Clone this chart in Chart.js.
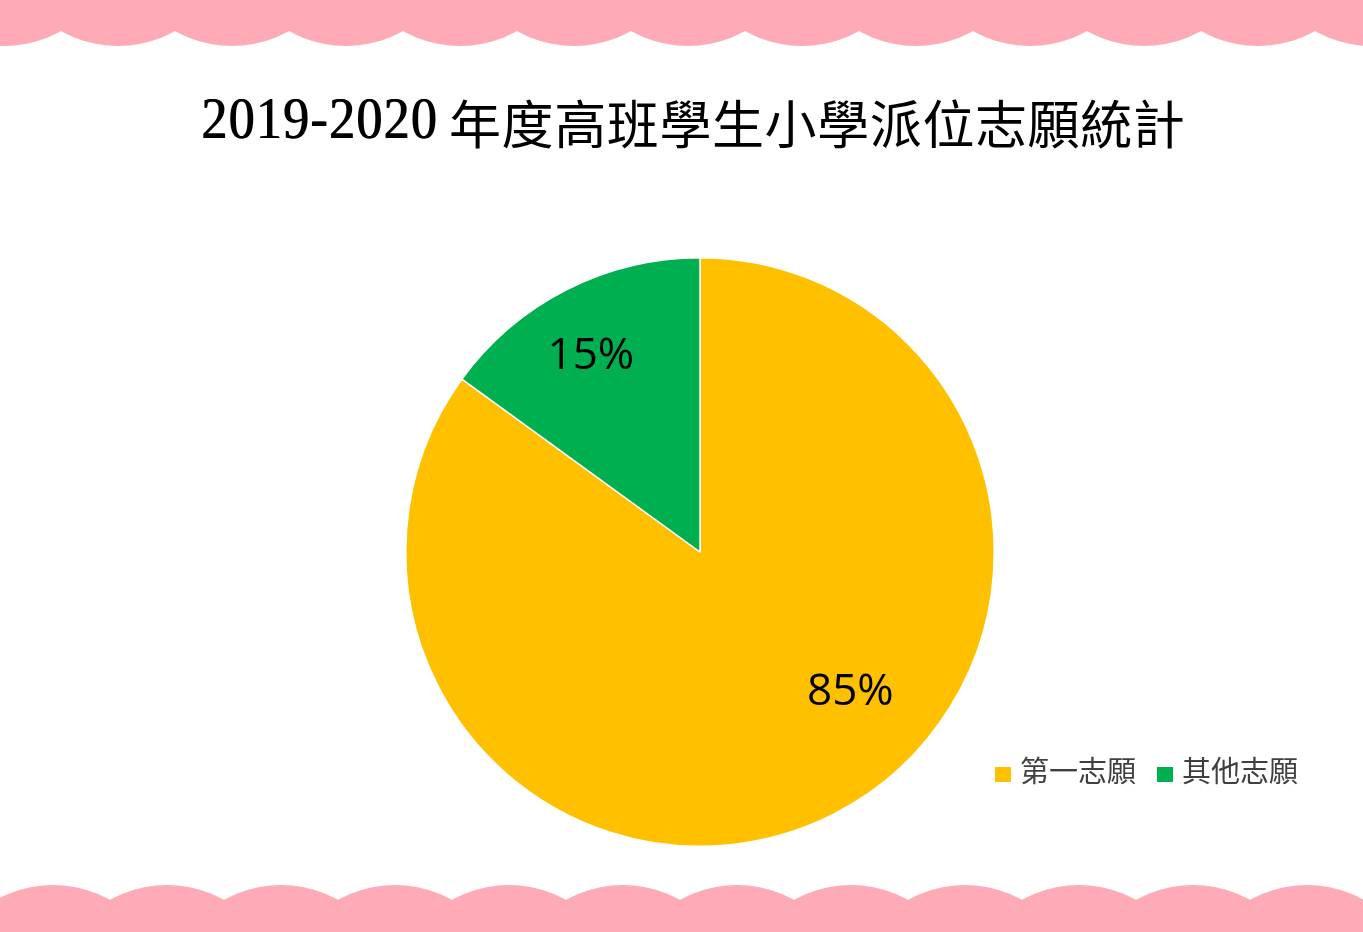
<!DOCTYPE html>
<html>
<head>
<meta charset="utf-8">
<script src="https://cdn.jsdelivr.net/npm/chart.js@4"></script>
<style>
  html, body { margin: 0; padding: 0; background: #ffffff; }
  #wrap { width: 1363px; height: 932px; position: relative; }
</style>
</head>
<body>
<div id="wrap"><canvas id="c" width="1363" height="932"></canvas></div>
<script>
// ---- data ----
const titleYear = '2019-2020';
const titleWords = '年度高班學生小學派位志願統計';
const categories = ['第一志願', '其他志願'];
const values = [85, 15];
const colors = ['#FFC000', '#00B050'];
// label anchor: fraction along the slice angle, fraction of radius
const labelAngleFrac = [0.435, 0.459];
const labelRadiusFrac = [0.70, 0.76];

const PINK = '#FFABB7';
const YEAR_FONT = '59px "Liberation Serif", serif';

const scallopPlugin = {
  id: 'scallops',
  beforeDraw(chart) {
    const ctx = chart.ctx;
    const W = chart.width, H = chart.height;
    ctx.save();
    ctx.fillStyle = '#ffffff';
    ctx.fillRect(0, 0, W, H);
    ctx.fillStyle = PINK;
    const r = 116, period = 114;
    for (let cx = 4 - period; cx < W + period; cx += period) {
      ctx.beginPath();
      ctx.arc(cx, 46 - r, r, 0, Math.PI * 2);
      ctx.fill();
    }
    for (let cx = 53 - period; cx < W + period; cx += period) {
      ctx.beginPath();
      ctx.arc(cx, 885 + r, r, 0, Math.PI * 2);
      ctx.fill();
    }
    ctx.restore();
  }
};

const titlePlugin = {
  id: 'mixedTitle',
  afterDraw(chart) {
    const ctx = chart.ctx;
    ctx.save();
    ctx.fillStyle = '#000000';
    ctx.textAlign = 'left';
    // year part: tall condensed serif digits
    ctx.save();
    ctx.translate(201, 138);
    ctx.scale(0.88, 1);
    ctx.font = YEAR_FONT;
    ctx.letterSpacing = '1.5px';
    ctx.textBaseline = 'alphabetic';
    ctx.shadowColor = '#000000';
    ctx.shadowBlur = 0;
    ctx.shadowOffsetX = 1;
    ctx.shadowOffsetY = 0;
    ctx.fillText(titleYear, 0, 0);
    ctx.restore();
    // Chinese part
    ctx.font = '52px "Noto Sans CJK TC", sans-serif';
    ctx.letterSpacing = '0.6px';
    ctx.textBaseline = 'middle';
    ctx.fillText(titleWords, 449, 124);
    ctx.restore();
  }
};

const labelPlugin = {
  id: 'pctLabels',
  afterDatasetsDraw(chart) {
    const ctx = chart.ctx;
    const meta = chart.getDatasetMeta(0);
    const total = values.reduce((a, b) => a + b, 0);
    ctx.save();
    ctx.font = '44px "Open Sans", "Noto Sans", sans-serif';
    ctx.fillStyle = '#000000';
    ctx.textAlign = 'center';
    ctx.textBaseline = 'middle';
    meta.data.forEach((arc, i) => {
      const p = arc.getProps(['x', 'y', 'startAngle', 'endAngle', 'outerRadius'], true);
      const a = p.startAngle + (p.endAngle - p.startAngle) * labelAngleFrac[i];
      const rr = p.outerRadius * labelRadiusFrac[i];
      ctx.fillText(Math.round(values[i] / total * 100) + '%',
        p.x + Math.cos(a) * rr, p.y + Math.sin(a) * rr);
    });
    ctx.restore();
  }
};

const legendPlugin = {
  id: 'customLegend',
  afterDraw(chart) {
    const ctx = chart.ctx;
    ctx.save();
    ctx.font = '29px "Noto Sans CJK TC", sans-serif';
    ctx.textBaseline = 'middle';
    ctx.textAlign = 'left';
    const box = 15, gapBox = 9, gapItem = 21;
    const widths = categories.map(t => ctx.measureText(t).width);
    let total = 0;
    categories.forEach((t, i) => {
      total += box + 1 + gapBox + widths[i] + (i < categories.length - 1 ? gapItem : 0);
    });
    const right = 1298;
    const cy = 771;
    let x = right - total;
    categories.forEach((t, i) => {
      ctx.fillStyle = colors[i];
      ctx.fillRect(x, 767, box + 1, box);
      x += box + 1 + gapBox;
      ctx.fillStyle = '#404040';
      ctx.fillText(t, x, cy);
      x += widths[i] + gapItem;
    });
    ctx.restore();
  }
};

new Chart(document.getElementById('c'), {
  type: 'pie',
  data: {
    labels: categories,
    datasets: [{
      data: values,
      backgroundColor: colors,
      borderColor: '#ffffff',
      borderWidth: 1.5
    }]
  },
  options: {
    responsive: false,
    animation: false,
    devicePixelRatio: 1,
    layout: { padding: { top: 257, bottom: 85, left: 37, right: 0 } },
    plugins: {
      legend: { display: false },
      tooltip: { enabled: false },
      title: { display: false }
    }
  },
  plugins: [scallopPlugin, titlePlugin, labelPlugin, legendPlugin]
});
</script>
</body>
</html>
